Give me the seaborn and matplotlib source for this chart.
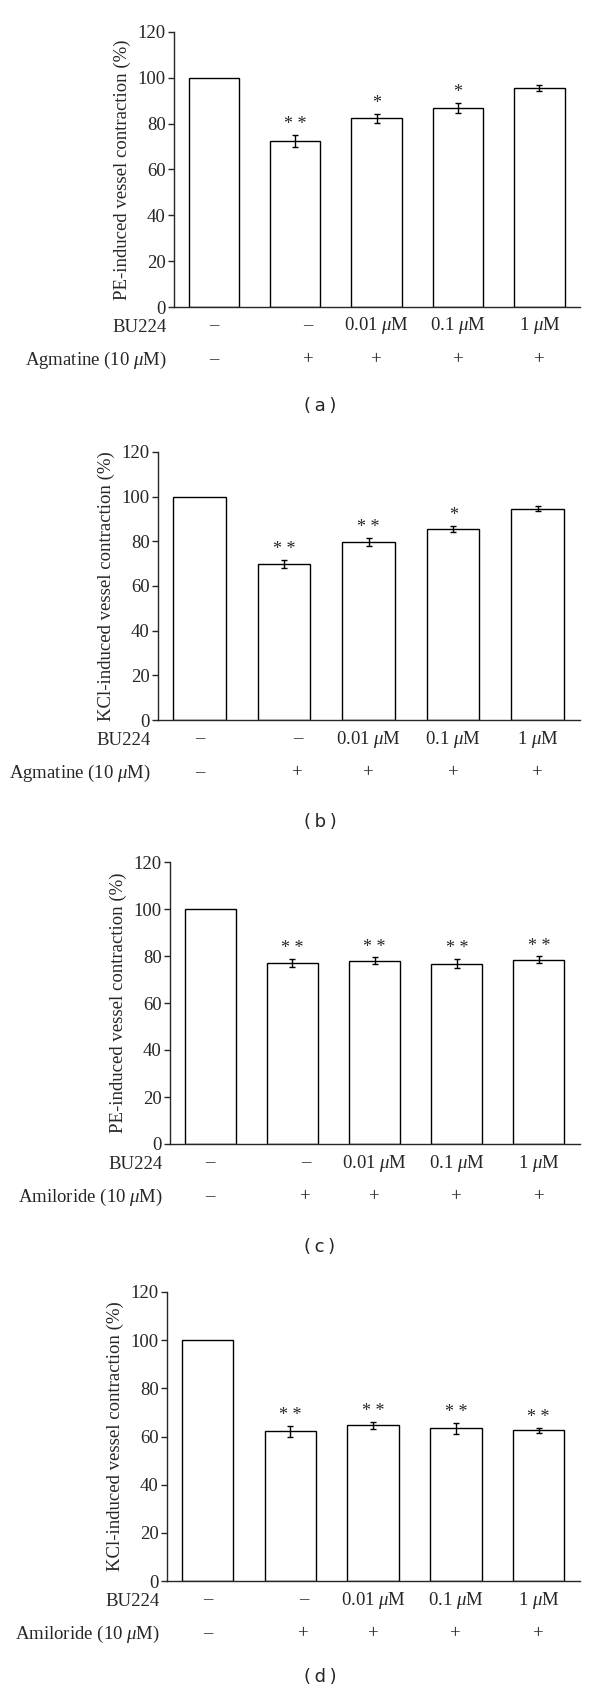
import matplotlib
matplotlib.use("Agg")
import matplotlib.pyplot as plt
import seaborn as sns

# data
groups = ["ctrl", "agent", "bu_001", "bu_01", "bu_1"]
bu224_labels = ["\u2013", "\u2013", r"0.01 $\mu$M", r"0.1 $\mu$M", r"1 $\mu$M"]
agent_signs = ["\u2013", "+", "+", "+", "+"]

a_vals = [100, 72.4, 82.4, 86.9, 95.5]
a_err = [0, 2.6, 2.0, 2.2, 1.3]
a_stars = ["", "* *", "*", "*", ""]

b_vals = [100, 69.8, 79.6, 85.6, 94.7]
b_err = [0, 1.8, 1.8, 1.3, 1.0]
b_stars = ["", "* *", "* *", "*", ""]

c_vals = [100, 77.0, 78.0, 76.8, 78.4]
c_err = [0, 1.7, 1.4, 1.8, 1.4]
c_stars = ["", "* *", "* *", "* *", "* *"]

d_vals = [100, 62.2, 64.6, 63.5, 62.6]
d_err = [0, 2.2, 1.3, 2.3, 1.0]
d_stars = ["", "* *", "* *", "* *", "* *"]

panels = [
    ("(\u2009a\u2009)", "PE-induced vessel contraction (%)", r"Agmatine (10 $\mu$M)", a_vals, a_err, a_stars),
    ("(\u2009b\u2009)", "KCl-induced vessel contraction (%)", r"Agmatine (10 $\mu$M)", b_vals, b_err, b_stars),
    ("(\u2009c\u2009)", "PE-induced vessel contraction (%)", r"Amiloride (10 $\mu$M)", c_vals, c_err, c_stars),
    ("(\u2009d\u2009)", "KCl-induced vessel contraction (%)", r"Amiloride (10 $\mu$M)", d_vals, d_err, d_stars),
]

# layout in pixels: left, right, top(120), bottom(0), caption y
layout = [
    (174, 580, 32, 307, 406),
    (158, 580, 452, 720, 822),
    (170, 580, 862, 1144, 1247),
    (167, 580, 1292, 1581, 1677),
]

W, H = 600, 1694
sns.set_style("ticks")
plt.rcParams["font.family"] = ["Liberation Serif", "DejaVu Serif"]
plt.rcParams["mathtext.fontset"] = "custom"
plt.rcParams["mathtext.rm"] = "Liberation Serif"
plt.rcParams["mathtext.it"] = "Liberation Serif:italic"

fig = plt.figure(figsize=(W / 100, H / 100), dpi=100)

for (cap, ylab, rowlab, vals, errs, stars), (l, r, t, b, cy) in zip(panels, layout):
    ax = fig.add_axes([l / W, 1 - b / H, (r - l) / W, (b - t) / H])
    sns.barplot(x=groups, y=vals, ax=ax, color="white", edgecolor="black",
                linewidth=1.0, width=0.62, errorbar=None, saturation=1)
    idx = [i for i in range(5) if errs[i] > 0]
    ax.errorbar(idx, [vals[i] for i in idx], yerr=[errs[i] for i in idx], fmt="none",
                ecolor="black", elinewidth=1.0, capsize=2.2, capthick=1.0)
    for i in range(5):
        if stars[i]:
            ax.text(i, vals[i] + errs[i] + 0.8, stars[i], ha="center", va="bottom", fontsize=13)
    ax.set_xlim(-0.49, 4.5)
    ax.set_ylim(0, 120)
    ax.set_yticks(range(0, 121, 20))
    ax.set_xticks([])
    ax.set_xlabel("")
    ax.set_ylabel(ylab, fontsize=13.5, labelpad=5)
    ax.tick_params(axis="y", direction="out", length=4, width=1, labelsize=13.5, pad=2)
    sns.despine(ax=ax)
    ax.spines["left"].set_linewidth(1)
    ax.spines["bottom"].set_linewidth(1)

    # condition rows under the axis
    for i in range(5):
        dx = 0.16 if i == 1 else 0
        ax.annotate(bu224_labels[i], xy=(i + dx, 0), xytext=(0, -19), textcoords="offset pixels",
                    ha="center", va="center", fontsize=13.5, annotation_clip=False)
        ax.annotate(agent_signs[i], xy=(i + dx, 0), xytext=(0, -53), textcoords="offset pixels",
                    ha="center", va="center", fontsize=13.5, annotation_clip=False)
    fig.text((l - 7) / W, 1 - (b + 20) / H, "BU224", ha="right", va="center", fontsize=13.5)
    fig.text((l - 7) / W, 1 - (b + 53) / H, rowlab, ha="right", va="center", fontsize=13.5)
    fig.text(320 / W, 1 - cy / H, cap, ha="center", va="center", fontsize=13,
             family=["DejaVu Sans"])

fig.savefig("out.png", dpi=100)
